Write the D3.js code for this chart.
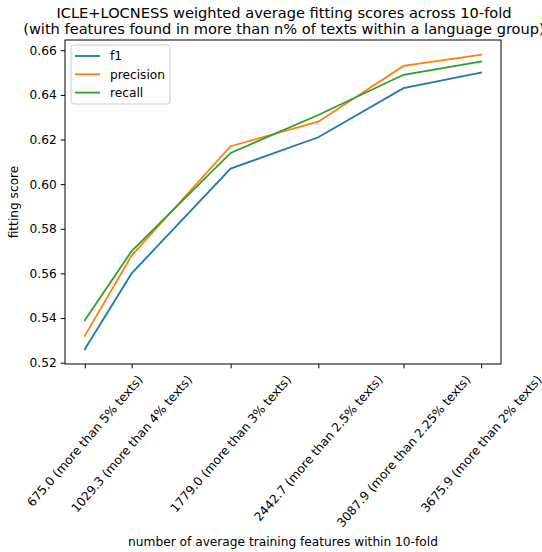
<!DOCTYPE html>
<meta charset="utf-8">
<title>ICLE+LOCNESS fitting scores</title>
<style>
body {
  margin: 0px;
  background: #fff;
}
svg {
  font-family: "DejaVu Sans", sans-serif;
}
</style>
<script src="https://cdn.jsdelivr.net/npm/d3@7"></script>
<body>
<script>

var features = [675.0, 1029.3, 1779.0, 2442.7, 3087.9, 3675.9];
var tickLabels = ["675.0 (more than 5% texts)", "1029.3 (more than 4% texts)",
  "1779.0 (more than 3% texts)", "2442.7 (more than 2.5% texts)",
  "3087.9 (more than 2.25% texts)", "3675.9 (more than 2% texts)"];
var f1 = [0.526, 0.560, 0.607, 0.621, 0.643, 0.650];
var precision = [0.532, 0.568, 0.617, 0.628, 0.653, 0.658];
var recall = [0.539, 0.570, 0.614, 0.631, 0.649, 0.655];
var yTicks = [0.52, 0.54, 0.56, 0.58, 0.60, 0.62, 0.64, 0.66];

var series = [
  {name: "f1", values: f1, color: "#1f77b4"},
  {name: "precision", values: precision, color: "#ff7f0e"},
  {name: "recall", values: recall, color: "#2ca02c"}
];

var width = 542, height = 552;
var plotL = 65, plotR = 501, plotT = 40, plotB = 364;
var fs = "12.2px";

var svg = d3.select("body").append("svg")
    .attr("width", width)
    .attr("height", height);

// matplotlib style 5% margins
var xPad = (d3.max(features) - d3.min(features)) * 0.05;
var x = d3.scaleLinear()
    .domain([d3.min(features) - xPad, d3.max(features) + xPad])
    .range([plotL, plotR]);
var allY = f1.concat(precision, recall);
var yPad = (d3.max(allY) - d3.min(allY)) * 0.05;
var y = d3.scaleLinear()
    .domain([d3.min(allY) - yPad, d3.max(allY) + yPad])
    .range([plotB, plotT]);

// title
var title = svg.append("text")
    .attr("text-anchor", "middle")
    .style("font-size", "14.6px")
    .attr("fill", "#000");
title.append("tspan").attr("x", (plotL + plotR) / 2 + 1).attr("y", 17.5)
    .text("ICLE+LOCNESS weighted average fitting scores across 10-fold");
title.append("tspan").attr("x", (plotL + plotR) / 2 + 1).attr("y", 34)
    .text("(with features found in more than n% of texts within a language group)");

// y axis
var yAxis = svg.append("g")
    .attr("transform", "translate(" + plotL + ",0)")
    .call(d3.axisLeft(y).tickValues(yTicks).tickFormat(d3.format(".2f"))
      .tickSize(4.3).tickPadding(4));
yAxis.select(".domain").remove();
yAxis.selectAll("text").style("font-size", fs).attr("fill", "#000")
    .attr("font-family", "DejaVu Sans");
yAxis.selectAll("line").attr("stroke", "#000").attr("stroke-width", 1);

// x axis ticks
var xAxis = svg.append("g")
    .attr("transform", "translate(0," + plotB + ")")
    .call(d3.axisBottom(x).tickValues(features).tickSize(4.3).tickFormat(""));
xAxis.select(".domain").remove();
xAxis.selectAll("line").attr("stroke", "#000").attr("stroke-width", 1);

// rotated tick labels, bbox centred on tick (ha=center, va=top)
var angle = 49;
var labelTop = plotB + 8.6;
var lab = svg.append("g").selectAll("text")
    .data(features)
    .enter().append("text")
    .attr("text-anchor", "middle")
    .attr("dy", "0.35em")
    .style("font-size", fs)
    .attr("fill", "#000")
    .text(function(d, i) { return tickLabels[i]; });
lab.attr("transform", function(d) {
  var w = this.getComputedTextLength(), h = 14;
  var a = angle * Math.PI / 180;
  var half = (w * Math.sin(a) + h * Math.cos(a)) / 2;
  return "translate(" + x(d) + "," + (labelTop + half) + ") rotate(" + (-angle) + ")";
});

// lines
var line = d3.line()
    .x(function(d, i) { return x(features[i]); })
    .y(function(d) { return y(d); });

svg.append("g").selectAll("path")
    .data(series)
    .enter().append("path")
    .attr("d", function(d) { return line(d.values); })
    .attr("fill", "none")
    .attr("stroke", function(d) { return d.color; })
    .attr("stroke-width", 1.8)
    .attr("stroke-linecap", "square");

// frame
svg.append("rect")
    .attr("x", plotL).attr("y", plotT)
    .attr("width", plotR - plotL).attr("height", plotB - plotT)
    .attr("fill", "none")
    .attr("stroke", "#000")
    .attr("stroke-width", 1);

// axis labels
svg.append("text")
    .attr("x", (plotL + plotR) / 2).attr("y", 546)
    .attr("text-anchor", "middle")
    .style("font-size", fs)
    .text("number of average training features within 10-fold");
svg.append("text")
    .attr("transform", "translate(18," + ((plotT + plotB) / 2) + ") rotate(-90)")
    .attr("text-anchor", "middle")
    .style("font-size", fs)
    .text("fitting score");

// legend
var legend = svg.append("g").attr("transform", "translate(71,45)");
legend.append("rect")
    .attr("width", 99).attr("height", 59)
    .attr("rx", 3)
    .attr("fill", "#fff").attr("fill-opacity", 0.8)
    .attr("stroke", "#ccc").attr("stroke-width", 1);
var item = legend.selectAll("g.item")
    .data(series)
    .enter().append("g")
    .attr("class", "item")
    .attr("transform", function(d, i) { return "translate(0," + (11 + i * 18.3) + ")"; });
item.append("line")
    .attr("x1", 4).attr("x2", 29)
    .attr("stroke", function(d) { return d.color; })
    .attr("stroke-width", 1.8);
item.append("text")
    .attr("x", 39).attr("dy", "0.35em")
    .style("font-size", fs)
    .text(function(d) { return d.name; });

</script>
